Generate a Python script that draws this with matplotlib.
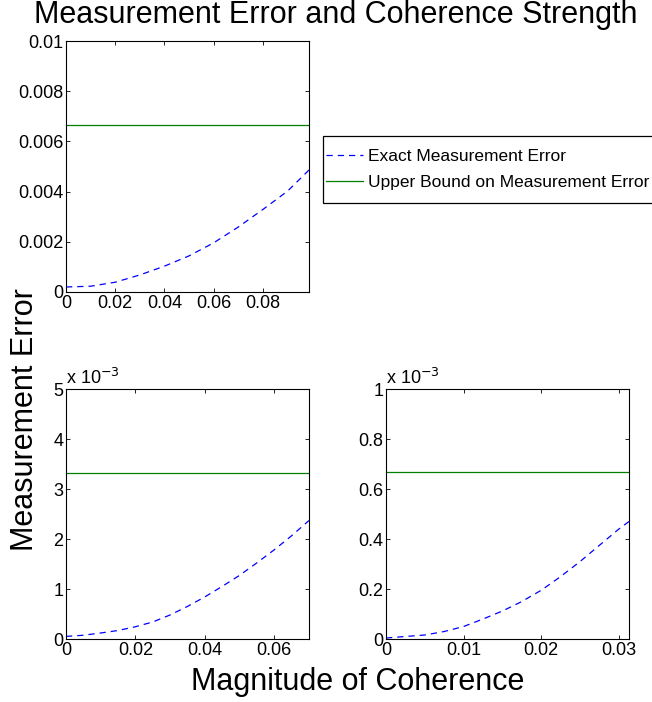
import numpy as np
import matplotlib
matplotlib.use("Agg")
import matplotlib.pyplot as plt
from matplotlib.patches import Rectangle
from matplotlib.ticker import FuncFormatter

plt.rcParams["font.family"] = ["Liberation Sans", "DejaVu Sans"]

# top-left panel
x_a = [0, 0.01, 0.02, 0.03, 0.04, 0.05, 0.06, 0.07, 0.08, 0.09, 0.0987]
err_a = [0.00020, 0.00023, 0.00039, 0.00068, 0.00103, 0.00144, 0.00196,
         0.00259, 0.00329, 0.00402, 0.00486]
bound_a = 0.00667

# bottom-left panel
x_b = [0, 0.005, 0.01, 0.015, 0.02, 0.025, 0.03, 0.035, 0.04, 0.045, 0.05,
       0.055, 0.06, 0.065, 0.0701]
err_b = [0.052e-3, 0.075e-3, 0.12e-3, 0.17e-3, 0.245e-3, 0.34e-3, 0.48e-3, 0.65e-3,
         0.84e-3, 1.05e-3, 1.27e-3, 1.52e-3, 1.78e-3, 2.06e-3, 2.37e-3]
bound_b = 3.33e-3

# bottom-right panel
x_c = [0, 0.005, 0.0075, 0.01, 0.0125, 0.015, 0.0175, 0.02, 0.0225, 0.025,
       0.0275, 0.03, 0.0313]
err_c = [0.004e-3, 0.016e-3, 0.03e-3, 0.05e-3, 0.08e-3, 0.112e-3, 0.15e-3,
         0.195e-3, 0.25e-3, 0.31e-3, 0.375e-3, 0.44e-3, 0.47e-3]
bound_c = 0.667e-3

W, H = 652, 702
fig = plt.figure(figsize=(W / 100, H / 100), dpi=100)


def px_axes(l, t, r, b):
    return fig.add_axes([l / W, 1 - b / H, (r - l) / W, (b - t) / H])


def style(ax, xt, yt, ylim, scale=1.0):
    ax.set_xticks(xt)
    ax.set_yticks(yt)
    ax.set_ylim(*ylim)
    ax.xaxis.set_major_formatter(FuncFormatter(lambda v, p: f"{v:g}"))
    ax.yaxis.set_major_formatter(FuncFormatter(lambda v, p: f"{round(v * scale, 6):g}"))
    ax.tick_params(direction="in", top=True, right=True, length=3, width=0.6,
                   labelsize=13, pad=2)
    for s in ax.spines.values():
        s.set_linewidth(0.8)


def panel(ax, x, err, bound):
    l1, = ax.plot(x, err, "--", color="#0000ff", lw=0.9, dashes=(5, 4))
    l2, = ax.plot([x[0], x[-1]], [bound, bound], "-", color="#008000", lw=0.9)
    ax.set_xlim(x[0], x[-1])
    return l1, l2


ax1 = px_axes(66, 41, 309, 292)
h1, h2 = panel(ax1, x_a, err_a, bound_a)
style(ax1, [0, 0.02, 0.04, 0.06, 0.08], [0, 0.002, 0.004, 0.006, 0.008, 0.01], (0, 0.01))

ax2 = px_axes(66, 389, 309, 639)
panel(ax2, x_b, err_b, bound_b)
style(ax2, [0, 0.02, 0.04, 0.06], [0, 1e-3, 2e-3, 3e-3, 4e-3, 5e-3], (0, 5e-3), 1e3)

ax3 = px_axes(386, 389, 629, 639)
panel(ax3, x_c, err_c, bound_c)
style(ax3, [0, 0.01, 0.02, 0.03], [0, 0.2e-3, 0.4e-3, 0.6e-3, 0.8e-3, 1e-3], (0, 1e-3), 1e3)

for ax in (ax2, ax3):
    ax.text(0.0, 1.005, r"x 10$^{-3}$", transform=ax.transAxes, ha="left", va="bottom",
            fontsize=13)

# legend box runs off the right edge, as in the original figure
fig.patches.append(Rectangle((323 / W, 1 - 203 / H), 400 / W, 67 / H,
                             transform=fig.transFigure, facecolor="white",
                             edgecolor="black", lw=0.9, zorder=1))
leg = fig.legend([h1, h2], ["Exact Measurement Error", "Upper Bound on Measurement Error"],
                 loc="upper left", bbox_to_anchor=(326 / W, 1 - 149 / H), fontsize=12.5,
                 frameon=False, handlelength=2.15, handletextpad=0.25, borderpad=0,
                 borderaxespad=0, labelspacing=0.62)
leg.set_zorder(2)

fig.text(336 / W, 1 - 23 / H, "Measurement Error and Coherence Strength",
         ha="center", va="baseline", fontsize=22)
fig.text(25 / W, 1 - 420 / H, "Measurement Error", rotation=90,
         ha="center", va="center", fontsize=22)
fig.text(358 / W, 1 - 690 / H, "Magnitude of Coherence",
         ha="center", va="baseline", fontsize=22)

fig.savefig("out.png", dpi=100, facecolor="white")
